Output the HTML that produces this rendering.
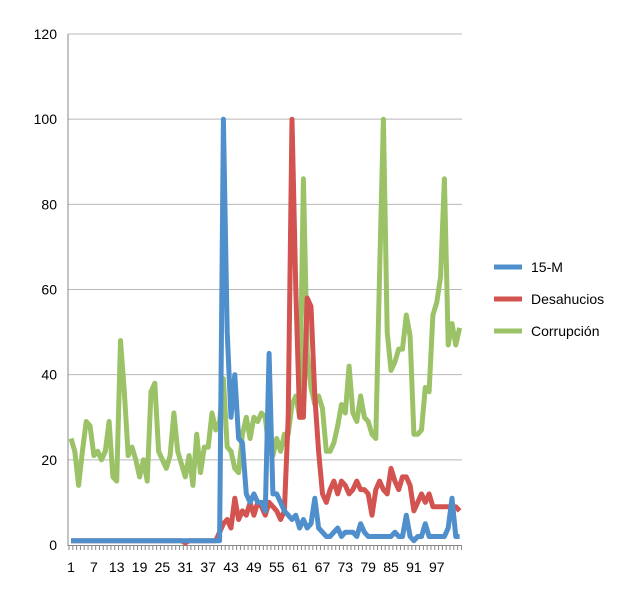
<!DOCTYPE html>
<html><head><meta charset="utf-8"><style>
body{margin:0;background:#fff;font-family:"Liberation Sans",sans-serif}
svg text{font-family:"Liberation Sans",sans-serif;fill:#000}
</style></head><body>
<svg width="622" height="593" id="c">
</svg>
<script>
const yTicks=[0,20,40,60,80,100,120];
const seriesNames=["15-M","Desahucios","Corrupción"];
const colors=["#4f8fcc","#d2534f","#9bc266"];
const m15=[1,1,1,1,1,1,1,1,1,1,1,1,1,1,1,1,1,1,1,1,1,1,1,1,1,1,1,1,1,1,1,1,1,1,1,1,1,1,1,1,100,50,30,40,25,24,12,10,12,10,10,8,45,12,12,10,8,7,6,7,4,6,4,5,11,4,3,2,2,3,4,2,3,3,3,2,5,3,2,2,2,2,2,2,2,3,2,2,7,2,1,2,2,5,2,2,2,2,2,4,11,2,2];
const desahucios=[1,1,1,1,1,1,1,1,1,1,1,1,1,1,1,1,1,1,1,1,1,1,1,1,1,1,1,1,1,1,0.5,1,1,1,1,1,1,1,1,3,5,6,4,11,6,8,7,10,7,10,9,7,10,9,8,6,8,30,100,60,30,30,58,56,35,22,12,10,13,15,12,15,14,12,13,15,13,13,12,7,13,15,13,12,18,15,13,16,16,14,8,10,12,10,12,9,9,9,9,9,9,9,8];
const corrupcion=[25,22,14,22,29,28,21,22,20,22,29,16,15,48,36,21,23,20,16,20,15,36,38,22,20,18,21,31,22,19,16,21,14,26,17,23,23,31,27,29,39,23,22,18,17,26,30,25,30,29,31,30,22,21,25,22,26,26,33,35,30,86,45,37,33,35,32,22,22,24,28,33,31,42,31,29,35,30,29,26,25,64,100,50,41,43,46,46,54,49,26,26,27,37,36,54,57,63,86,47,52,47,51];
const data=[m15,desahucios,corrupcion];
const svg=document.getElementById('c');const NS="http://www.w3.org/2000/svg";
const X0=71,DX=3.81,Y0=545,Y1=34,YMAX=120;
const xs=i=>X0+i*DX, ys=v=>Y0-(v/YMAX)*(Y0-Y1);
function mk(t,a,p){const e=document.createElementNS(NS,t);for(const k in a)e.setAttribute(k,a[k]);(p||svg).appendChild(e);return e;}
yTicks.forEach(v=>{
 if(v>0){const g=mk('line',{x1:68,x2:462,y1:ys(v),y2:ys(v),stroke:'#b8b8b8','stroke-width':1});
 
 }
 const t=mk('text',{x:57,y:ys(v)+5,'text-anchor':'end','font-size':14});t.textContent=v;
 
 
});
const ax=mk('line',{x1:68,x2:68,y1:34,y2:546,stroke:'#888','stroke-width':1});


const bx=mk('line',{x1:68,x2:462,y1:545.5,y2:545.5,stroke:'#888','stroke-width':1});


const n=corrupcion.length;
for(let i=0;i<=n;i++){const tk=mk('line',{x1:xs(i)-2,x2:xs(i)-2,y1:546,y2:550,stroke:'#888','stroke-width':1});
 
 }
for(let i=0;i+1<=100;i+=6){const t=mk('text',{x:xs(i),y:572,'text-anchor':'middle','font-size':14});t.textContent=i+1;
 
 }
[2,1,0].forEach(s=>{
 const d=data[s].map((v,i)=>(i?'L':'M')+xs(i).toFixed(1)+','+ys(v).toFixed(1)).join('');
 const p=mk('path',{d:d,fill:'none',stroke:colors[s],'stroke-width':5,'stroke-linejoin':'round'});
 
 
});
seriesNames.forEach((nm,s)=>{
 const y=267+s*32;
 const l=mk('line',{x1:494,x2:522,y1:y,y2:y,stroke:colors[s],'stroke-width':5});
 
 
 const t=mk('text',{x:531,y:y+5,'font-size':14});t.textContent=nm;
 
 
});
</script>
</body></html>
